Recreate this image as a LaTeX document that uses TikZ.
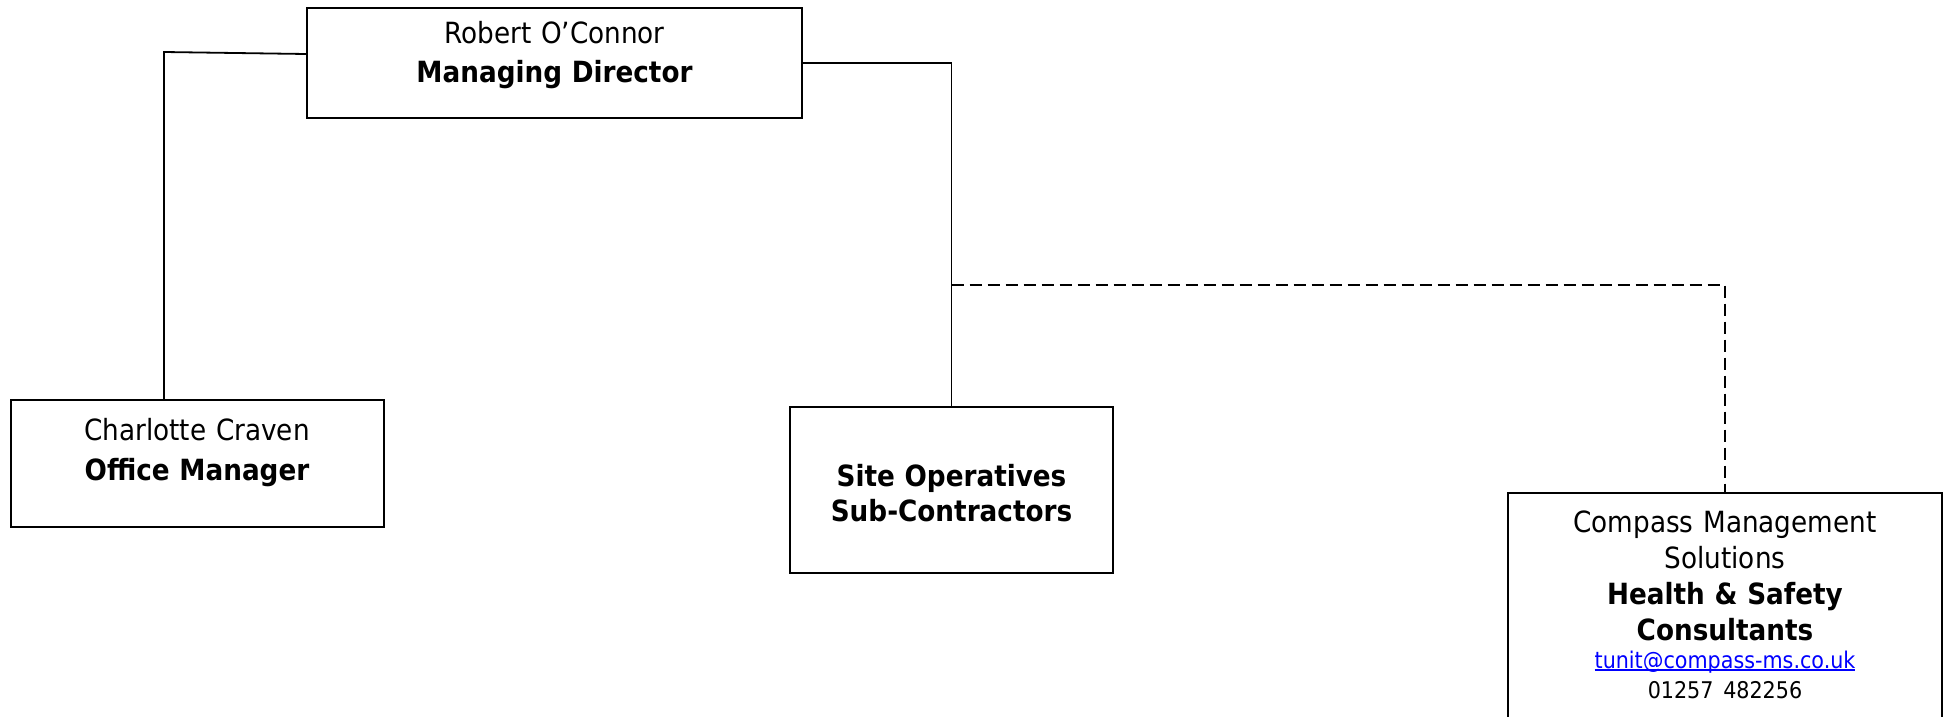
\documentclass[tikz,border=0pt]{standalone}
\usepackage{fontspec}
\setmainfont{DejaVu Sans Condensed}[BoldFont={DejaVu Sans Condensed Bold}]
\tikzset{
  post/.style={draw, line width=1pt, inner sep=0pt, align=center},
  link/.style={line width=0.9pt},
  dashlink/.style={line width=0.9pt, dash pattern=on 6pt off 3pt}
}
\newcommand{\bigtext}{\fontsize{14.6}{17.5}\selectfont}
\newcommand{\smalltext}{\fontsize{11.5}{14.8}\selectfont}
\newcommand{\linktext}[1]{\leavevmode\setbox0\hbox{#1}\rlap{\rule[-1.3pt]{\wd0}{0.7pt}}\box0}

\begin{document}
\begin{tikzpicture}[x=0.5pt, y=-0.5pt]
% page frame
\useasboundingbox (0,0) rectangle (1948,717);
\clip (0,0) rectangle (1948,717);
% the posts
\node[post, text width=247.5pt, text height=18pt, text depth=37pt,
  font=\bigtext] (md) at (554.5,63) {Robert O’Connor\\[1.8pt]\textbf{Managing Director}};
\node[post, text width=186.5pt, text height=20.4pt, text depth=43.1pt,
  font=\bigtext] (office) at (197,463.5) {Charlotte Craven\\[2.5pt]\textbf{Office Manager}};
\node[post, text width=161.5pt, text height=39.6pt, text depth=43.4pt,
  font=\bigtext] (site) at (951.5,490) {\textbf{Site Operatives}\\\textbf{Sub-Contractors}};
\node[post, text width=217pt, text height=19.75pt, text depth=113.75pt,
  font=\bigtext] (compass) at (1725,626.5) {Compass Management\\[0.5pt]Solutions\\[0.5pt]
  \textbf{Health \& Safety}\\[0.5pt]\textbf{Consultants}\\[-1pt]
  \smalltext\color{blue}\linktext{tunit@compass-ms.co.uk}\\[-2.5pt]
  \color{black}01257 482256};
% bends
\path (164,52) coordinate (lbend);
\path (0,285) coordinate (dashrow);
% solid lines
\draw[link] ([yshift=4.5pt]md.west) -- (lbend) -- (lbend |- office.north);
\draw[link] (md.east) -| (site.north);
% dashed line to the consultants
\draw[dashlink] (site.north |- dashrow) -| (compass.north);
\end{tikzpicture}
\end{document}
